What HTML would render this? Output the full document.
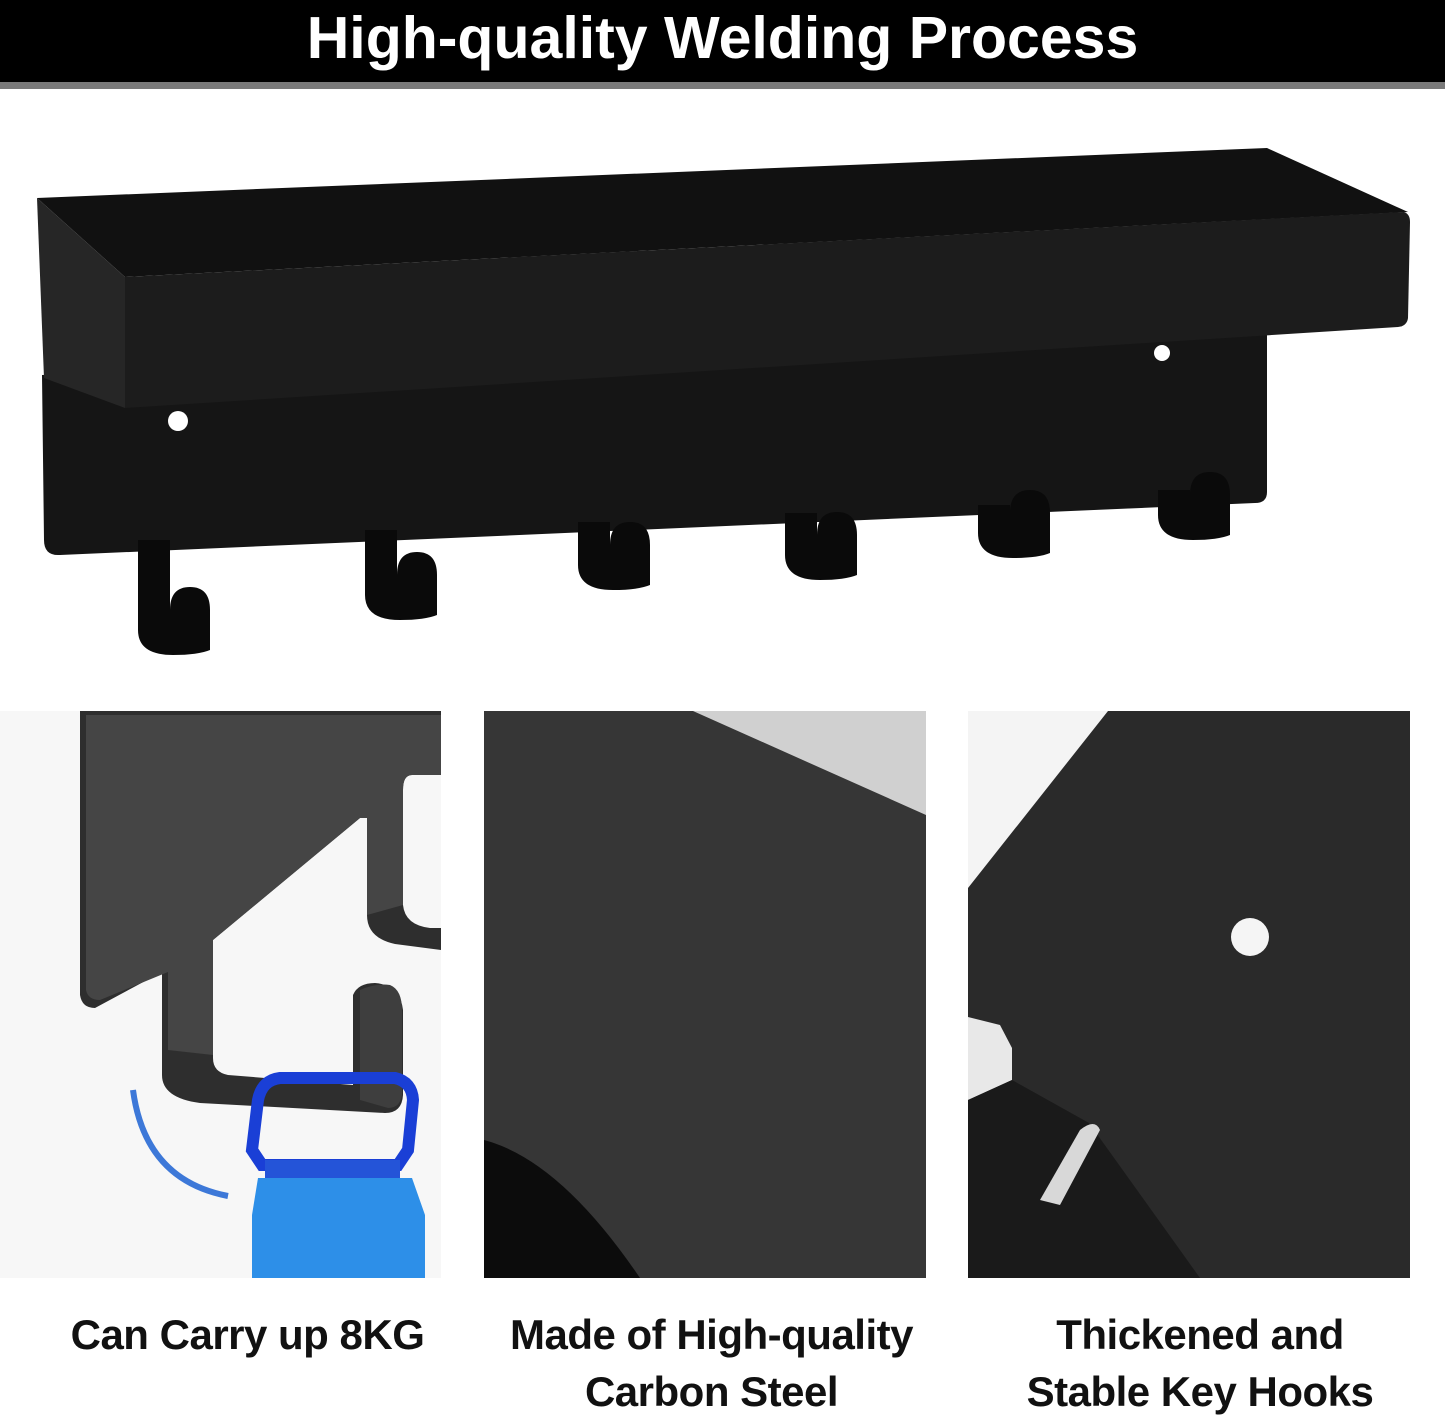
<!DOCTYPE html>
<html><head><meta charset="utf-8"><style>
html,body{margin:0;padding:0;background:#fff;width:1445px;height:1421px;overflow:hidden}
.t{position:absolute;left:0;top:0;width:1445px;height:82px;background:#000;color:#fff;font:bold 59px "Liberation Sans",sans-serif;text-align:center;line-height:76px}
.g{position:absolute;left:0;top:82px;width:1445px;height:7px;background:#7a7a7a}
.c{position:absolute;font:bold 42px "Liberation Sans",sans-serif;color:#111;text-align:center;line-height:57px;letter-spacing:-0.5px}
</style></head><body>
<div class="t">High-quality Welding Process</div><div class="g"></div>
<svg width="1445" height="1421" style="position:absolute;left:0;top:0">
<!-- back plate -->
<path d="M42,375 L1267,320 L1267,492 Q1267,503 1255,503 L60,555 Q44,556 44,540 Z" fill="#151515"/>
<circle cx="178" cy="421" r="10" fill="#fff"/><circle cx="1162" cy="353" r="8" fill="#fff"/>
<!-- hooks -->
<g fill="#0a0a0a">
<path d="M138,540 H170 V610 Q170,587 190,587 Q210,587 210,610 V650 Q198,655 173,655 Q138,655 138,630 Z"/>
<path d="M365,530 H397 V575 Q397,552 417,552 Q437,552 437,575 V615 Q425,620 400,620 Q365,620 365,595 Z"/>
<path d="M578,522 H610 V545 Q610,522 630,522 Q650,522 650,545 V585 Q638,590 613,590 Q578,590 578,565 Z"/>
<path d="M785,513 H817 V535 Q817,512 837,512 Q857,512 857,535 V575 Q845,580 820,580 Q785,580 785,555 Z"/>
<path d="M978,505 H1010 V513 Q1010,490 1030,490 Q1050,490 1050,513 V553 Q1038,558 1013,558 Q978,558 978,533 Z"/>
<path d="M1158,490 H1190 V495 Q1190,472 1210,472 Q1230,472 1230,495 V535 Q1218,540 1193,540 Q1158,540 1158,515 Z"/>
</g>
<!-- shelf -->
<path d="M37,198 L1267,148 L1408,212 L125,277 Z" fill="#111"/>
<path d="M37,198 L125,277 L125,408 L44,378 Z" fill="#262626"/>
<path d="M125,277 L1404,212 Q1410,214 1410,222 L1408,318 Q1407,326 1398,327 L125,408 Z" fill="#1c1c1c"/>
<!-- panel 1 -->
<rect x="0" y="711" width="441" height="567" fill="#f7f7f7"/>
<path d="M80,711 H441 V775 H412 Q403,775 403,790 V905 Q405,925 430,928 H441 V950 L395,944 Q367,938 367,915 V818 H360 L213,940 V1058 Q213,1072 228,1075 L353,1085 V995 Q358,983 375,983 Q400,985 403,1010 V1095 Q402,1113 385,1113 L200,1103 Q162,1098 162,1075 V972 L95,1008 Q82,1008 80,995 Z" fill="#2e2e2e"/>
<path d="M86,715 H441 V775 H412 Q403,775 403,790 V905 L367,915 V818 H360 L213,940 V1055 L168,1050 V972 L100,1000 Q88,1000 86,990 Z" fill="#454545"/>
<path d="M360,990 Q375,983 390,985 Q402,990 402,1010 V1095 Q400,1108 388,1108 L360,1100 Z" fill="#3e3e3e"/>
<path d="M252,1150 L258,1100 Q262,1080 280,1078 L395,1078 Q412,1082 413,1100 L408,1150 L398,1165 L262,1165 Z" fill="none" stroke="#1a3fd6" stroke-width="12"/>
<path d="M265,1160 H400 V1180 H265 Z" fill="#2454d8"/>
<path d="M258,1178 L412,1178 L425,1215 L425,1278 H252 L252,1215 Z" fill="#2d8fe8"/>
<path d="M133,1090 Q145,1180 228,1196" stroke="#3d78d8" stroke-width="6" fill="none"/>
<!-- panel 2 -->
<rect x="484" y="711" width="442" height="567" fill="#363636"/>
<path d="M693,711 H926 V815 Z" fill="#d0d0d0"/>
<path d="M484,1140 Q560,1160 640,1278 H484 Z" fill="#0c0c0c"/>
<!-- panel 3 -->
<rect x="968" y="711" width="442" height="567" fill="#2a2a2a"/>
<path d="M968,711 H1108 L968,888 Z" fill="#f4f4f4"/>
<path d="M968,1017 L1000,1025 L1012,1048 L1012,1080 L968,1100 Z" fill="#e8e8e8"/>
<path d="M968,1100 L1012,1080 L1089,1123 L1200,1278 H968 Z" fill="#1a1a1a"/>
<path d="M1040,1200 L1080,1130 Q1095,1118 1100,1130 L1060,1205 Z" fill="#d8d8d8"/>
<circle cx="1250" cy="937" r="19" fill="#f5f5f5"/>
</svg>
<div class="c" style="left:0;top:1306px;width:495px">Can Carry up 8KG</div>
<div class="c" style="left:484px;top:1306px;width:455px">Made of High-quality<br>Carbon Steel</div>
<div class="c" style="left:990px;top:1306px;width:420px">Thickened and<br>Stable Key Hooks</div>
</body></html>
